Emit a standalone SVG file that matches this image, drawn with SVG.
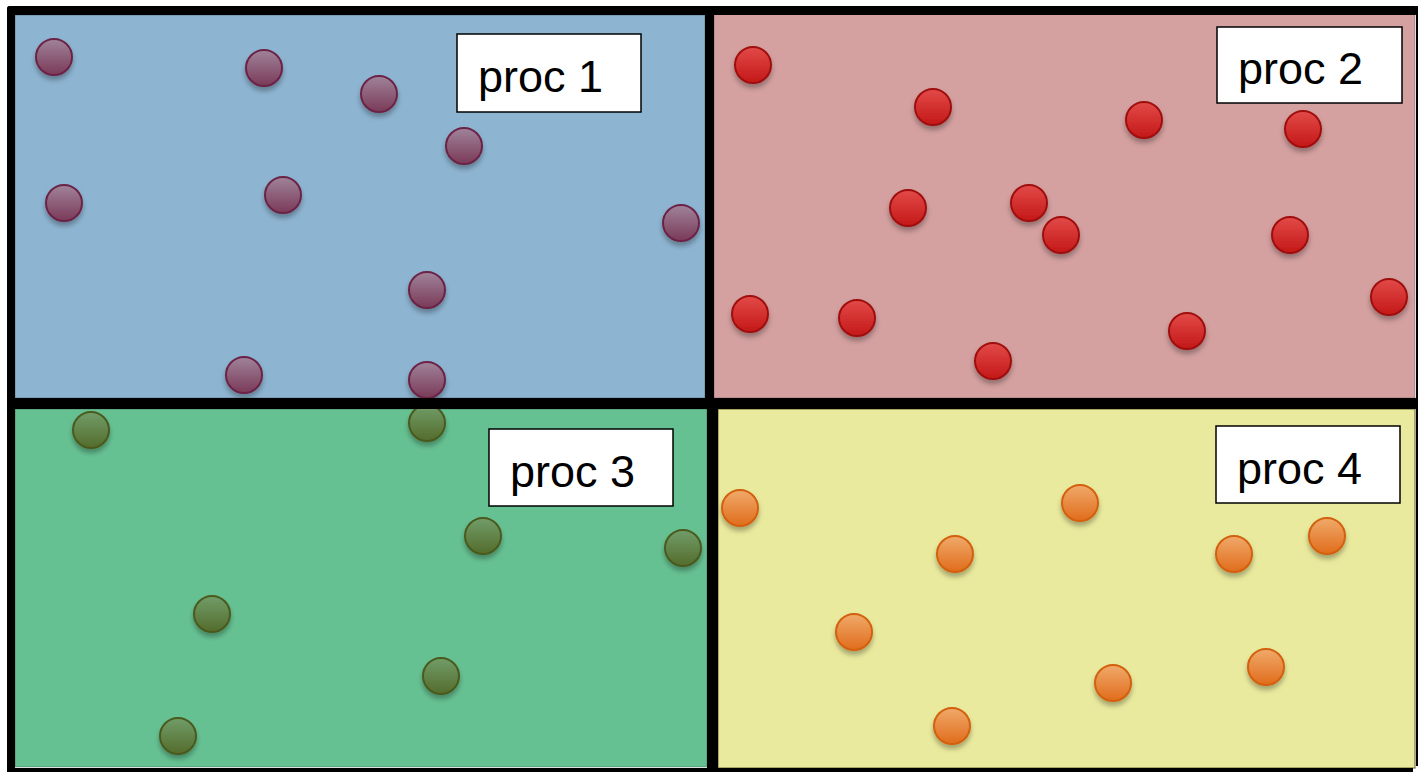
<svg xmlns="http://www.w3.org/2000/svg" width="1418" height="772" viewBox="0 0 1418 772">
<defs>
<linearGradient id="gP" x1="0" y1="0" x2="0" y2="1"><stop offset="0" stop-color="#a0839a"/><stop offset="1" stop-color="#7a3a58"/></linearGradient>
<linearGradient id="gR" x1="0" y1="0" x2="0" y2="1"><stop offset="0" stop-color="#e24a48"/><stop offset="1" stop-color="#c41818"/></linearGradient>
<linearGradient id="gG" x1="0" y1="0" x2="0" y2="1"><stop offset="0" stop-color="#719d69"/><stop offset="1" stop-color="#546c2c"/></linearGradient>
<linearGradient id="gO" x1="0" y1="0" x2="0" y2="1"><stop offset="0" stop-color="#f0aa6a"/><stop offset="1" stop-color="#e06c1c"/></linearGradient>
<filter id="sh" x="-50%" y="-50%" width="200%" height="200%"><feDropShadow dx="0" dy="4" stdDeviation="2.5" flood-color="#000" flood-opacity="0.3"/></filter>
</defs>
<style>
.p circle{fill:url(#gP);stroke:#6c2446;stroke-width:2;filter:url(#sh)}
.r circle{fill:url(#gR);stroke:#a01010;stroke-width:2;filter:url(#sh)}
.g circle{fill:url(#gG);stroke:#4a5a1e;stroke-width:2;filter:url(#sh)}
.o circle{fill:url(#gO);stroke:#d2600e;stroke-width:2;filter:url(#sh)}
.panel{stroke:#000;stroke-opacity:0.25;stroke-width:1}
.bar{fill:#000}
.lbl rect{fill:#fff;stroke:#000;stroke-width:1.5}
.lbl text{font-family:"Liberation Sans",Arial,sans-serif;font-size:45px;fill:#000}
</style>
<rect width="1418" height="772" fill="#fff"/>
<g id="panels">
<rect id="panel1" class="panel" x="15" y="15" width="690" height="383" fill="#8db4d1"/>
<rect id="panel2" class="panel" x="714" y="14" width="701" height="384" fill="#d4a0a0"/>
<rect id="panel3" class="panel" x="15" y="409" width="692" height="358" fill="#66c192"/>
<rect id="panel4" x="718" y="409" width="697" height="359" fill="#eaea9e" stroke="#7a7a40" stroke-width="1.2"/>
</g>
<g id="particles1" class="p">
<circle cx="54" cy="57" r="18"/><circle cx="264" cy="68" r="18"/><circle cx="379" cy="94" r="18"/><circle cx="464" cy="146" r="18"/>
<circle cx="64" cy="203" r="18"/><circle cx="283" cy="195" r="18"/><circle cx="681" cy="223" r="18"/><circle cx="427" cy="290" r="18"/>
<circle cx="244" cy="375" r="18"/><circle cx="427" cy="380" r="18"/>
</g>
<g id="particles2" class="r">
<circle cx="753" cy="65" r="18"/><circle cx="933" cy="107" r="18"/><circle cx="1144" cy="120" r="18"/><circle cx="1303" cy="129" r="18"/>
<circle cx="908" cy="208" r="18"/><circle cx="1029" cy="203" r="18"/><circle cx="1061" cy="235" r="18"/><circle cx="1290" cy="235" r="18"/>
<circle cx="750" cy="314" r="18"/><circle cx="857" cy="318" r="18"/><circle cx="993" cy="361" r="18"/><circle cx="1187" cy="331" r="18"/>
<circle cx="1389" cy="297" r="18"/>
</g>
<g id="particles3" class="g">
<circle cx="91" cy="430" r="18"/><circle cx="427" cy="423" r="18"/><circle cx="483" cy="536" r="18"/><circle cx="683" cy="548" r="18"/>
<circle cx="212" cy="614" r="18"/><circle cx="441" cy="676" r="18"/><circle cx="178" cy="736" r="18"/>
</g>
<g id="particles4" class="o">
<circle cx="740" cy="508" r="18"/><circle cx="1080" cy="503" r="18"/><circle cx="955" cy="554" r="18"/><circle cx="1234" cy="554" r="18"/>
<circle cx="1327" cy="536" r="18"/><circle cx="854" cy="632" r="18"/><circle cx="1266" cy="667" r="18"/><circle cx="1113" cy="683" r="18"/>
<circle cx="952" cy="726" r="18"/>
</g>
<g id="borders">
<rect class="bar" x="7" y="6" width="1411" height="9" rx="3"/>
<rect class="bar" x="7" y="6" width="8" height="766" rx="3"/>
<rect class="bar" x="7" y="398" width="1411" height="11"/>
<rect class="bar" x="705" y="6" width="9" height="403"/>
<rect class="bar" x="707" y="398" width="11" height="374"/>
<rect class="bar" x="7" y="768" width="1406" height="4"/>
<rect class="bar" x="1416" y="6" width="2" height="760"/>
</g>
<g id="label1" class="lbl"><rect x="457" y="34" width="184" height="78"/><text x="478" y="92">proc 1</text></g>
<g id="label2" class="lbl"><rect x="1217" y="27" width="185" height="76"/><text x="1238" y="84">proc 2</text></g>
<g id="label3" class="lbl"><rect x="489" y="429" width="184" height="77"/><text x="510" y="487">proc 3</text></g>
<g id="label4" class="lbl"><rect x="1216" y="426" width="184" height="77"/><text x="1237" y="484">proc 4</text></g>
</svg>
